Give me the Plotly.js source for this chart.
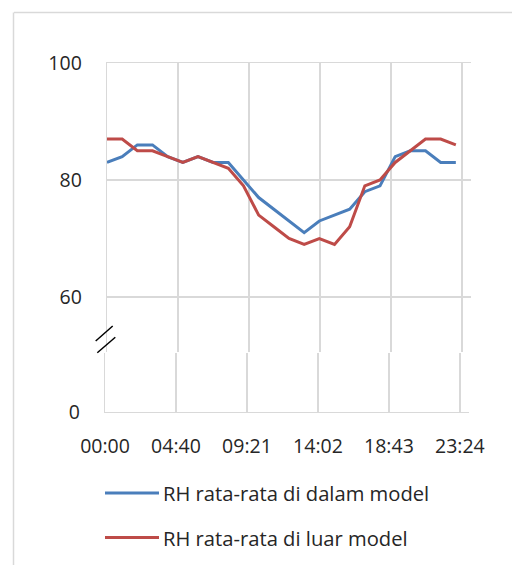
<!DOCTYPE html>
<html>
<head>
<meta charset="utf-8">
<script src="https://cdn.plot.ly/plotly-3.0.1.min.js"></script>
<style>
html,body{margin:0;padding:0;background:#fff;}
#chart{width:512px;height:565px;}
</style>
</head>
<body>
<div id="chart"></div>
<script>
// Data
var hours = [0,1,2,3,4,5,6,7,8,9,10,11,12,13,14,15,16,17,18,19,20,21,22,23];
var rhDalam = [83,84,86,86,84,83,84,83,83,80,77,75,73,71,73,74,75,78,79,84,85,85,83,83];
var rhLuar  = [87,87,85,85,84,83,84,83,82,79,74,72,70,69,70,69,72,79,80,83,85,87,87,86];
var seriesNames = ['RH rata-rata di dalam model', 'RH rata-rata di luar model'];
var xTickVals = [0, 4.68, 9.36, 14.04, 18.72, 23.4];
var xTickText = ['00:00', '04:40', '09:21', '14:02', '18:43', '23:24'];
var yTickValsTop = [60, 80, 100];
var yTickValsBottom = [0];

var W = 512, H = 565;
function px(x){ return x / W; }
function py(y){ return 1 - y / H; }

var blue = '#4A7EBB', red = '#BE4B48', grid = '#d9d9d9', txt = '#262626';
var fam = '"Open Sans", "Noto Sans", sans-serif';
var font = {family: fam, size: 19.5, color: txt};
var legFont = {family: fam, size: 20.2, color: txt};

var traces = [
  {x: hours, y: rhDalam, type: 'scatter', mode: 'lines', name: seriesNames[0],
   line: {color: blue, width: 3}, xaxis: 'x', yaxis: 'y'},
  {x: hours, y: rhLuar, type: 'scatter', mode: 'lines', name: seriesNames[1],
   line: {color: red, width: 3}, xaxis: 'x', yaxis: 'y'},
  {x: [null], y: [null], type: 'scatter', mode: 'lines', showlegend: false,
   hoverinfo: 'skip', xaxis: 'x2', yaxis: 'y2'}
];

var layout = {
  width: W, height: H,
  margin: {l: 0, r: 0, t: 0, b: 0},
  paper_bgcolor: '#ffffff', plot_bgcolor: 'rgba(0,0,0,0)',
  showlegend: false,
  font: font,
  xaxis: {
    domain: [px(107), px(471)], range: [0, 24], anchor: 'y', side: 'top',
    tickvals: xTickVals, showticklabels: false, ticks: '',
    showgrid: true, gridcolor: grid, gridwidth: 1.3, zeroline: false,
    showline: true, linecolor: grid, linewidth: 1.3
  },
  yaxis: {
    domain: [py(352), py(63)], range: [50.6, 100], anchor: 'x',
    tickvals: yTickValsTop, ticktext: yTickValsTop.map(String),
    ticks: 'outside', ticklen: 20, tickcolor: 'rgba(0,0,0,0)',
    showgrid: true, gridcolor: grid, gridwidth: 1.3, zeroline: false,
    showline: true, linecolor: grid, linewidth: 1.3,
    tickfont: font
  },
  xaxis2: {
    domain: [px(105), px(469)], range: [0, 24], anchor: 'y2',
    tickvals: xTickVals, ticktext: xTickText,
    ticks: 'outside', ticklen: 16, tickcolor: 'rgba(0,0,0,0)',
    showgrid: true, gridcolor: grid, gridwidth: 1.3, zeroline: false,
    showline: true, linecolor: grid, linewidth: 1.3,
    tickfont: font
  },
  yaxis2: {
    domain: [py(412), py(353)], range: [0, 10], anchor: 'x2',
    tickvals: yTickValsBottom, ticktext: yTickValsBottom.map(String),
    ticks: 'outside', ticklen: 20, tickcolor: 'rgba(0,0,0,0)',
    showgrid: false, zeroline: false,
    showline: true, linecolor: grid, linewidth: 1.3,
    tickfont: font
  },
  shapes: [
    // outer frame (top and left)
    {type: 'line', xref: 'paper', yref: 'paper', x0: px(14), x1: 1, y0: py(12.5), y1: py(12.5),
     line: {color: grid, width: 1.5}},
    {type: 'line', xref: 'paper', yref: 'paper', x0: px(13.5), x1: px(13.5), y0: py(12.5), y1: 0,
     line: {color: grid, width: 1.5}},
    // axis break marks
    {type: 'line', xref: 'paper', yref: 'paper', x0: px(95.7), x1: px(112.7), y0: py(341), y1: py(326),
     line: {color: '#000000', width: 1.5}},
    {type: 'line', xref: 'paper', yref: 'paper', x0: px(97.3), x1: px(115.3), y0: py(352.7), y1: py(337.3),
     line: {color: '#000000', width: 1.5}},
    // legend samples
    {type: 'line', xref: 'paper', yref: 'paper', x0: px(105), x1: px(159), y0: py(493), y1: py(493),
     line: {color: blue, width: 3}},
    {type: 'line', xref: 'paper', yref: 'paper', x0: px(105), x1: px(159), y0: py(537.5), y1: py(537.5),
     line: {color: red, width: 3}}
  ],
  annotations: [
    {xref: 'paper', yref: 'paper', x: px(161), y: py(493), xanchor: 'left', yanchor: 'middle',
     text: seriesNames[0], showarrow: false, font: legFont},
    {xref: 'paper', yref: 'paper', x: px(161), y: py(537.5), xanchor: 'left', yanchor: 'middle',
     text: seriesNames[1], showarrow: false, font: legFont}
  ]
};

Plotly.newPlot('chart', traces, layout, {displayModeBar: false, staticPlot: true});
</script>
</body>
</html>
